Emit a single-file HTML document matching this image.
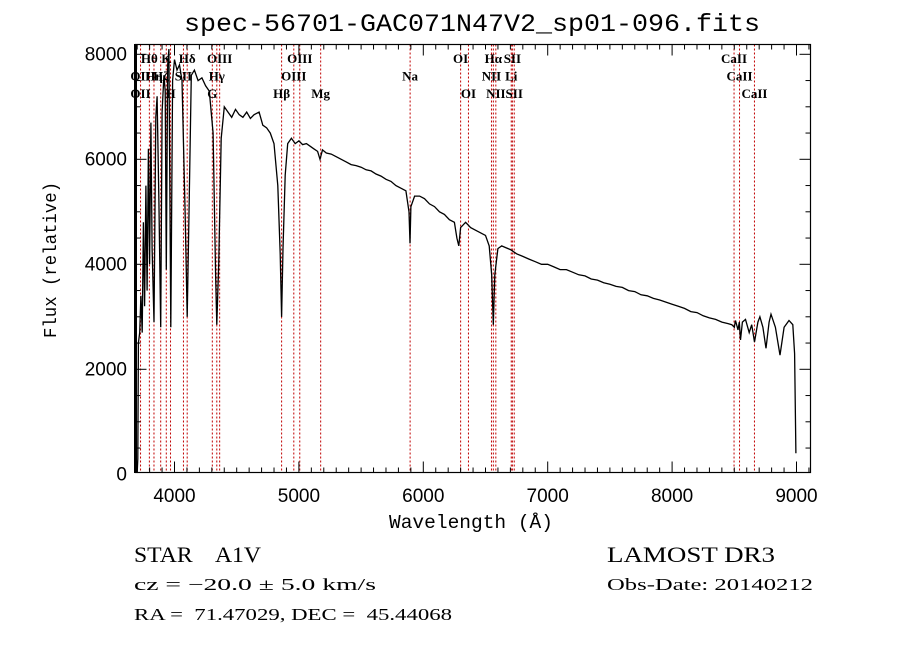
<!DOCTYPE html>
<html><head><meta charset="utf-8"><style>
html,body{margin:0;padding:0;background:#fff;}
svg{display:block;}
text{font-family:"Liberation Serif",serif;fill:#000;}
.mono{font-family:"Liberation Mono",monospace;}
.sans{font-family:"Liberation Sans",sans-serif;}
</style></head><body>
<svg id="chart" width="900" height="649" viewBox="0 0 900 649" xmlns="http://www.w3.org/2000/svg">
<rect width="900" height="649" fill="#fff"/>
<text class="mono" x="472" y="31" font-size="25" text-anchor="middle" textLength="576" lengthAdjust="spacingAndGlyphs">spec-56701-GAC071N47V2_sp01-096.fits</text>
<g id="lines"></g>
<g id="linelabels"></g>
<g id="ticks"></g>
<path id="spec" fill="none" stroke="#000" stroke-width="1.3"/>
<rect x="135.5" y="44.5" width="675" height="428" fill="none" stroke="#000" stroke-width="1.2"/>
<line x1="135.5" y1="44" x2="135.5" y2="473" stroke="#000" stroke-width="3"/>
<text class="mono" font-size="18" text-anchor="middle" transform="translate(56,260) rotate(-90)" textLength="156" lengthAdjust="spacingAndGlyphs">Flux (relative)</text>
<text class="mono" font-size="19" x="471" y="528" text-anchor="middle" textLength="164" lengthAdjust="spacingAndGlyphs">Wavelength (Å)</text>
<text x="134" y="562" font-size="22" textLength="127" lengthAdjust="spacingAndGlyphs" style="white-space:pre">STAR    A1V</text>
<text x="134" y="590" font-size="17" textLength="242" lengthAdjust="spacingAndGlyphs" style="white-space:pre">cz = −20.0 ± 5.0 km/s</text>
<text x="134" y="620" font-size="17" textLength="318" lengthAdjust="spacingAndGlyphs" style="white-space:pre">RA =  71.47029, DEC =  45.44068</text>
<text x="607" y="562" font-size="22" textLength="168" lengthAdjust="spacingAndGlyphs">LAMOST DR3</text>
<text x="607" y="590" font-size="17" textLength="206" lengthAdjust="spacingAndGlyphs">Obs-Date: 20140212</text>
</svg>
<script>
const wavelengths=[3700,3705,3710,3720,3730,3740,3750,3760,3770,3780,3790,3800,3810,3820,3835,3850,3860,3875,3889,3900,3915,3925,3934,3945,3955,3970,3985,4000,4020,4040,4060,4085,4102,4118,4135,4160,4190,4220,4250,4280,4310,4330,4340,4355,4375,4400,4430,4460,4490,4520,4550,4580,4610,4640,4680,4710,4740,4770,4800,4830,4850,4861,4872,4890,4910,4940,4970,5000,5030,5060,5090,5120,5150,5170,5190,5220,5260,5300,5340,5380,5420,5460,5500,5540,5580,5620,5660,5700,5740,5780,5820,5860,5885,5893,5900,5930,5970,6010,6050,6090,6130,6170,6210,6250,6270,6285,6300,6340,6380,6420,6460,6500,6530,6550,6563,6575,6600,6630,6660,6700,6750,6800,6850,6900,6950,7000,7050,7100,7150,7200,7250,7300,7350,7400,7450,7500,7550,7600,7650,7700,7750,7800,7850,7900,7950,8000,8050,8100,8150,8200,8250,8300,8350,8400,8450,8480,8500,8510,8530,8540,8550,8565,8590,8620,8640,8662,8690,8706,8730,8755,8780,8795,8830,8867,8900,8940,8970,8985,8995];
const fluxValues=[0,300,2500,2700,3400,2700,4800,3200,5500,3500,6200,4000,6700,4300,2900,6800,7200,5200,2800,6900,7600,7300,3900,7800,8100,2800,7500,7900,7700,7800,7500,5000,3000,5200,7600,7700,7500,7550,7400,7300,6500,3800,2850,4000,6400,7000,6900,6800,6950,6850,6800,6900,6780,6850,6900,6650,6600,6500,6300,5500,4200,3000,4300,5700,6300,6400,6300,6350,6280,6300,6250,6200,6150,6000,6180,6120,6100,6050,6000,5950,5900,5880,5850,5800,5780,5720,5680,5620,5580,5500,5450,5400,5000,4400,5100,5300,5300,5250,5150,5100,5000,4950,4850,4800,4500,4350,4700,4800,4700,4650,4600,4550,4350,3800,2850,3800,4300,4350,4320,4280,4200,4150,4100,4050,4000,4000,3950,3900,3900,3850,3800,3780,3720,3700,3650,3620,3580,3560,3500,3480,3420,3400,3350,3320,3280,3240,3200,3160,3100,3080,3020,2980,2950,2900,2870,2850,2800,2930,2750,2900,2560,2900,2950,2700,2850,2520,2900,3000,2800,2400,2900,3050,2800,2270,2800,2930,2850,2300,400];
const lineWaves=[3727,3798,3835,3889,3934,3968,4072,4102,4304,4340,4363,4861,4959,5007,5175,5894,6300,6363,6548,6563,6583,6707,6716,6731,8498,8542,8662];
const labelNames=["Hθ","K","Hδ","OIII","OIII","OI","Hα","SII","CaII","OII","Hη","Hζ","SII","Hγ","OIII","Na","NII","Li","CaII","OII","H","G","Hβ","Mg","OI","NII","SII","CaII"];
const labelWaves=[3798,3934,4102,4363,5007,6300,6563,6716,8498,3727,3835,3889,4072,4340,4959,5894,6548,6707,8542,3727,3968,4304,4861,5175,6363,6583,6731,8662];
const labelRows=[0,0,0,0,0,0,0,0,0,1,1,1,1,1,1,1,1,1,1,2,2,2,2,2,2,2,2,2];
const xTicks=[4000,5000,6000,7000,8000,9000];
const yTicks=[0,2000,4000,6000,8000];

const NS="http://www.w3.org/2000/svg";
const xs=w=>174.5+(w-4000)*0.1244;
const ys=f=>474.3-f*0.0525;
const X0=135.5,X1=810.5,Y0=44.5,Y1=472.5;

let d="";
for(let i=0;i<wavelengths.length;i++){
  const y=Math.min(Y1,Math.max(Y0,ys(fluxValues[i])));
  d+=(i?"L":"M")+xs(wavelengths[i]).toFixed(1)+" "+y.toFixed(1);
}
document.getElementById("spec").setAttribute("d",d);

const lg=document.getElementById("lines");
lineWaves.forEach(w=>{
  const l=document.createElementNS(NS,"line");
  
  
  l.setAttribute("x1",xs(w));l.setAttribute("x2",xs(w));
  l.setAttribute("y1",Y0);l.setAttribute("y2",Y1);
  l.setAttribute("stroke","#c00000");l.setAttribute("stroke-width","1");
  l.setAttribute("stroke-dasharray","2,2");
  lg.appendChild(l);
});
const lb=document.getElementById("linelabels");
labelNames.forEach((n,i)=>{
  const t=document.createElementNS(NS,"text");
  
  
  t.setAttribute("x",xs(labelWaves[i]));
  t.setAttribute("y",63+labelRows[i]*17.5);
  t.setAttribute("font-size","13");
  t.setAttribute("font-weight","bold");
  t.setAttribute("text-anchor","middle");
  t.textContent=n;
  lb.appendChild(t);
});

const tg=document.getElementById("ticks");
function tick(x1,y1,x2,y2){
  const l=document.createElementNS(NS,"line");
  
  
  l.setAttribute("x1",x1);l.setAttribute("y1",y1);l.setAttribute("x2",x2);l.setAttribute("y2",y2);
  l.setAttribute("stroke","#000");l.setAttribute("stroke-width","1");
  tg.appendChild(l);
}
for(let w=3700;w<=9100;w+=100){
  const x=xs(w); if(x<X0||x>X1)continue;
  const len=(w%1000===0)?11:5;
  tick(x,Y1,x,Y1-len);tick(x,Y0,x,Y0+len);
}
for(let f=0;f<=8000;f+=500){
  const y=ys(f); if(y<Y0||y>Y1)continue;
  const len=(f%2000===0)?11:5;
  tick(X0,y,X0+len,y);tick(X1,y,X1-len,y);
}
xTicks.forEach(v=>{
  const t=document.createElementNS(NS,"text");
  
  
  t.setAttribute("class","sans");
  t.setAttribute("x",xs(v));t.setAttribute("y",502);
  t.setAttribute("font-size","19");t.setAttribute("text-anchor","middle");
  t.textContent=v;tg.appendChild(t);
});
yTicks.forEach(v=>{
  const t=document.createElementNS(NS,"text");
  
  
  t.setAttribute("class","sans");
  t.setAttribute("x",127);t.setAttribute("y",ys(v)+6);
  t.setAttribute("font-size","19");t.setAttribute("text-anchor","end");
  t.textContent=v;tg.appendChild(t);
});
</script>
</body></html>
